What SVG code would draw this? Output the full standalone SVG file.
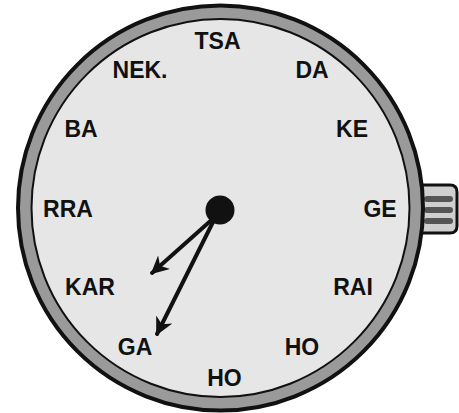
<svg xmlns="http://www.w3.org/2000/svg" width="459" height="413" viewBox="0 0 459 413">
<defs>
<style>
.lbl{font-family:"Liberation Sans",Arial,sans-serif;font-weight:bold;font-size:23px;fill:#111;text-anchor:middle}
.hand{stroke:#111;stroke-width:4;stroke-linecap:round;fill:none}
.bar{fill:#555}
</style>
<marker id="arr" viewBox="0 0 10 10" refX="9" refY="5" markerWidth="4.5" markerHeight="4.5" orient="auto" markerUnits="strokeWidth">
<path d="M0,0 L10,5 L0,10 L3,5 Z" fill="#111"/>
</marker>
</defs>
<rect width="459" height="413" fill="#ffffff"/>
<g id="crown">
<path d="M420,185 H450 Q457,185 457,192 V226 Q457,233 450,233 H420 Z" fill="#cfcfcf" stroke="#111" stroke-width="3"/>
<rect class="bar" x="424" y="196" width="29" height="6" rx="3"/>
<rect class="bar" x="424" y="207" width="29" height="6" rx="3"/>
<rect class="bar" x="424" y="218" width="29" height="6" rx="3"/>
</g>
<g id="dial">
<circle cx="220.5" cy="208" r="202.5" fill="#9a9a9a" stroke="#111" stroke-width="4"/>
<circle cx="220.5" cy="208" r="189" fill="#e6e6e6" stroke="#111" stroke-width="2"/>
</g>
<g id="labels">
<g id="n-tsa"><text class="lbl" x="217.5" y="49">TSA</text></g>
<g id="n-nek"><text class="lbl" x="140" y="78">NEK.</text></g>
<g id="n-da"><text class="lbl" x="312" y="78">DA</text></g>
<g id="n-ba"><text class="lbl" x="81" y="137">BA</text></g>
<g id="n-ke"><text class="lbl" x="352" y="137">KE</text></g>
<g id="n-rra"><text class="lbl" x="68" y="217">RRA</text></g>
<g id="n-ge"><text class="lbl" x="380" y="217">GE</text></g>
<g id="n-kar"><text class="lbl" x="90" y="295">KAR</text></g>
<g id="n-rai"><text class="lbl" x="353" y="295">RAI</text></g>
<g id="n-ga"><text class="lbl" x="135" y="355">GA</text></g>
<g id="n-ho1"><text class="lbl" x="302" y="355">HO</text></g>
<g id="n-ho2"><text class="lbl" x="224.5" y="386">HO</text></g>
</g>
<g id="connectors">
<line class="hand" x1="216" y1="216" x2="152" y2="273" marker-end="url(#arr)"/>
<line class="hand" x1="216" y1="216" x2="157" y2="334" marker-end="url(#arr)"/>
</g>
<g id="hub"><circle cx="220" cy="210" r="14.5" fill="#111"/></g>
</svg>
